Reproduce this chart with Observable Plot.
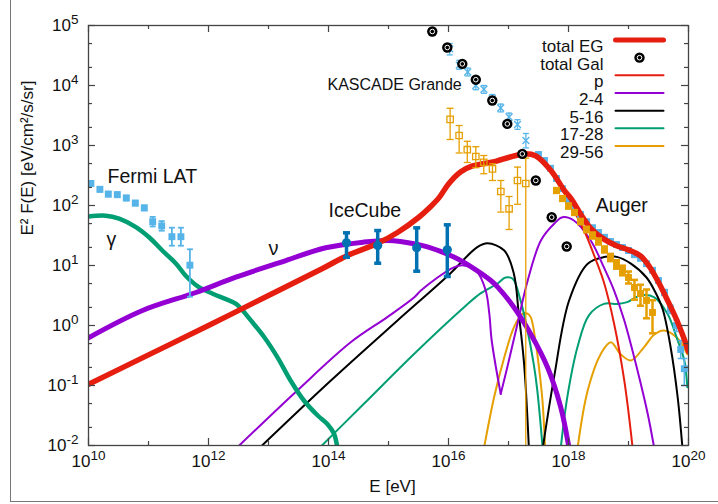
<!DOCTYPE html>
<html><head><meta charset="utf-8">
<script src="https://cdn.jsdelivr.net/npm/d3@7"></script>
<script src="https://cdn.jsdelivr.net/npm/@observablehq/plot@0.6"></script>
<style>
html,body{margin:0;padding:0;background:#fff;}
#wrap{position:relative;width:718px;height:504px;overflow:hidden;}
#border{position:absolute;left:10px;top:-2px;width:720px;height:503px;border-left:1.3px solid #777;border-bottom:1.3px solid #777;pointer-events:none;z-index:2;}
</style></head><body><div id="wrap"></div>
<script>
// ---- data (log10 E [eV], log10 E^2 F(E)) ----
const totalEG = [[10,-0.98],[11,-0.49],[12,0.0],[13,0.5],[13.9,0.95],[14.3,1.16],[14.82,1.37],[15.15,1.55],[15.5,1.80],[15.7,1.98],[15.85,2.14],[16.0,2.36],[16.2,2.56],[16.4,2.66],[16.6,2.70],[16.8,2.74],[17.0,2.80],[17.25,2.86],[17.45,2.83],[17.71,2.58],[17.93,2.25],[18.04,2.12],[18.2,1.86],[18.37,1.62],[18.59,1.44],[18.8,1.33],[19.0,1.26],[19.2,1.16],[19.35,0.98],[19.5,0.72],[19.65,0.42],[19.8,0.10],[19.9,-0.15],[20.0,-0.43]];
const pCurve = [[[10,-0.98],[11,-0.49],[12,0.0],[13,0.5],[13.9,0.95],[14.3,1.16],[14.82,1.37],[15.15,1.55],[15.5,1.80],[15.7,1.98],[15.85,2.14],[16.0,2.36],[16.2,2.56],[16.4,2.66],[16.6,2.70],[16.8,2.74],[17.0,2.80],[17.25,2.86],[17.45,2.83],[17.65,2.64],[17.82,2.40],[18.04,2.0],[18.26,1.58],[18.48,1.03],[18.59,0.72],[18.76,0.03],[18.93,-0.92],[19.07,-2.05]]];
const c2_4 = [[[12.46,-2.05],[13.48,-1.083],[14.37,-0.28],[14.98,0.14],[15.43,0.47],[15.54,0.583],[16.09,0.97],[16.26,1.0],[16.48,0.89],[16.62,0.583],[16.68,0.2],[16.72,-0.25],[16.87,-1.14]],
  [[16.87,-1.14],[16.98,-0.695],[17.15,0.03],[17.32,0.75],[17.54,1.417],[17.76,1.695],[17.90,1.805],[18.09,1.75],[18.37,1.417],[18.59,0.97],[18.76,0.583],[18.93,0.083],[19.15,-0.75],[19.32,-1.47],[19.43,-2.05]]];
const c5_16 = [[[12.84,-2.05],[14.04,-0.917],[15.15,0.083],[15.98,0.82],[16.48,1.305],[16.65,1.37],[16.93,1.25],[17.09,0.86],[17.17,0.2],[17.26,-0.64],[17.34,-2.05]],
  [[17.57,-2.05],[17.76,-0.86],[18.01,0.417],[18.32,1.03],[18.59,1.14],[18.82,1.14],[19.04,1.03],[19.3,0.8],[19.45,0.55],[19.57,0.27],[19.7,-0.35],[19.82,-1.2],[19.9,-2.05]]];
const c17_28 = [[[13.84,-2.05],[14.59,-1.305],[15.43,-0.47],[16.26,0.305],[16.54,0.54],[16.82,0.70],[16.95,0.80],[17.07,0.78],[17.2,0.42],[17.3,0.0],[17.42,-0.64],[17.48,-1.08],[17.57,-2.05]],
  [[17.87,-2.05],[17.98,-1.195],[18.15,-0.36],[18.34,0.17],[18.59,0.36],[18.82,0.36],[18.98,0.39],[19.2,0.5],[19.43,0.47],[19.65,0.195],[19.82,-0.25],[19.93,-0.58],[19.98,-1.03]]];
const c29_56 = [[[16.59,-2.05],[16.76,-1.195],[16.93,-0.53],[17.09,-0.03],[17.23,0.195],[17.31,0.2],[17.37,0.14],[17.455,-0.3],[17.52,-0.8],[17.57,-1.3],[17.61,-2.05]],
  [[18.15,-2.05],[18.32,-1.083],[18.54,-0.47],[18.705,-0.28],[18.87,-0.48],[19.04,-0.583],[19.26,-0.36],[19.43,-0.15],[19.59,-0.083],[19.82,-0.217],[19.98,-0.48]]];
const gammaCurve = [[10.0,1.817],[10.29,1.83],[10.51,1.78],[10.79,1.64],[11.01,1.47],[11.23,1.25],[11.46,1.03],[11.62,0.83],[11.84,0.64],[12.07,0.53],[12.29,0.44],[12.46,0.36],[12.57,0.25],[12.71,0.08],[12.93,-0.195],[13.15,-0.53],[13.37,-0.92],[13.59,-1.25],[13.82,-1.50],[13.98,-1.64],[14.09,-1.80],[14.15,-2.05]];
const nuCurve = [[10,-0.205],[10.9,0.25],[11.79,0.55],[12.455,0.805],[13.29,1.083],[13.955,1.295],[14.59,1.39],[14.98,1.417],[15.2,1.40],[15.65,1.31],[16.09,1.14],[16.43,0.945],[16.705,0.75],[16.82,0.64],[17.09,0.305],[17.37,-0.14],[17.65,-0.695],[17.87,-1.36],[18.01,-2.05]];

// data points: [logE, logF, logLow, logHigh]
const fermiLAT = [[10.04,2.367,2.33,2.40],[10.19,2.27,2.23,2.31],[10.33,2.19,2.15,2.23],[10.48,2.18,2.14,2.22],[10.63,2.125,2.085,2.165],[10.78,2.04,2.0,2.08],[10.93,1.96,1.92,2.0],[11.07,1.73,1.65,1.81],[11.22,1.66,1.58,1.74],[11.39,1.48,1.33,1.63],[11.54,1.48,1.33,1.63],[11.69,1.005,0.48,1.27]];
const iceCube = [[14.30,1.378,1.138,1.545],[14.82,1.333,1.038,1.583],[15.47,1.295,0.905,1.628],[15.98,1.262,0.817,1.678]];
const kascadeGrande = [[16.02,4.61,4.51,4.70],[16.18,4.34,4.27,4.42],[16.32,4.225,4.16,4.29],[16.455,4.0,3.93,4.07],[16.59,3.937,3.87,4.0],[16.73,3.78,3.71,3.85],[16.87,3.625,3.56,3.69],[17.01,3.475,3.41,3.54],[17.15,3.35,3.27,3.43],[17.29,3.083,2.96,3.2]];
const kascadeLight = [[16.027,3.435,3.10,3.62],[16.177,3.167,2.875,3.333],[16.313,2.93,2.717,3.07],[16.455,2.817,2.63,2.98],[16.588,2.72,2.53,2.833],[16.733,2.61,2.417,2.695],[16.872,2.233,1.89,2.417],[17.01,1.945,1.60,2.15],[17.15,2.417,2.02,2.64],[17.288,2.367,-3,2.79]];
const augerTotal = [[17.5,2.85,2.85,2.85],[17.6,2.75,2.75,2.75],[17.7,2.62,2.62,2.62],[17.8,2.45,2.45,2.45],[17.9,2.28,2.28,2.28],[18.0,2.10,2.10,2.10],[18.1,1.97,1.97,1.97],[18.2,1.85,1.85,1.85],[18.3,1.73,1.73,1.73],[18.4,1.63,1.63,1.63],[18.5,1.55,1.55,1.55],[18.6,1.47,1.47,1.47],[18.7,1.40,1.40,1.40],[18.8,1.35,1.35,1.35],[18.9,1.30,1.30,1.30],[19.0,1.25,1.25,1.25],[19.1,1.18,1.18,1.18],[19.2,1.12,1.12,1.12],[19.3,1.03,1.03,1.03],[19.4,0.92,0.92,0.92],[19.5,0.75,0.72,0.78],[19.6,0.55,0.50,0.60],[19.7,0.27,0.20,0.34],[19.8,0.0,-0.10,0.09],[19.87,-0.40,-0.55,-0.25],[19.93,-0.72,-1.0,-0.55]];
const augerComp = [[17.8,2.25,2.21,2.29],[17.9,2.117,2.077,2.157],[18.0,1.99,1.95,2.03],[18.1,1.883,1.843,1.923],[18.2,1.733,1.69,1.776],[18.3,1.60,1.555,1.645],[18.4,1.50,1.45,1.55],[18.5,1.40,1.35,1.45],[18.6,1.267,1.217,1.317],[18.7,1.133,1.073,1.193],[18.8,1.017,0.947,1.087],[18.9,0.917,0.837,0.997],[19.0,0.80,0.70,0.90],[19.1,0.633,0.43,0.76],[19.2,0.533,0.33,0.68],[19.3,0.417,0.12,0.60],[19.4,0.217,-0.13,0.42]];
const totalGal = [[15.73,4.90],[15.98,4.633],[16.23,4.36],[16.455,4.097],[16.73,3.75],[16.98,3.36],[17.23,2.86],[17.455,2.417],[17.72,1.805],[17.97,1.317]];

// ticks
const xMajorExp = [10,12,14,16,18,20];
const xMinorExp = [11,13,15,17,19];
const yMajorExp = [-2,-1,0,1,2,3,4,5];
const yMinorMant = [2,5];

// legend
const legendLabels = ["total EG","total Gal","p","2-4","5-16","17-28","29-56"];
const legendColors = ["#E51E10","#000000","#E51E10","#9400D3","#000000","#009E73","#E69F00"];
const legendWidths = [5,0,2,2,2,2,2];

// annotations [text, logE (left edge), logF (middle), fontSize]
const annotations = [["Fermi LAT",10.317,2.475,19.5],["γ",10.3,1.427,19.5],["ν",13.0,1.285,20],["IceCube",14.0,1.908,19.5],["KASCADE Grande",13.983,4.013,16],["Auger",18.455,1.992,19.5]];

// ---- helpers ----
const RED="#E51E10", PURPLE="#9400D3", GREEN="#009E73", ORANGE="#E69F00", LBLUE="#56B4E9", DBLUE="#0072B2";
const P = a => a.map(([e,f]) => ({x:10**e, y:10**f}));
const S = segs => segs.flatMap((s,i) => s.map(([e,f]) => ({x:10**e, y:10**f, s:i})));
const E = a => a.map(([e,f,lo,hi]) => ({x:10**e, y:10**f, lo:10**lo, hi:10**hi}));
const capSym = {draw(ctx, size){ const r = Math.sqrt(size/Math.PI); ctx.moveTo(-r,0); ctx.lineTo(r,0); }};
const lineShape = {draw(ctx, l){ ctx.moveTo(0,0); ctx.lineTo(0,-l); }};
function errMarks(data, color, w, capR){
  const d = data.filter(p => p.hi/p.lo > 1.05);
  const caps = d.flatMap(p => [{x:p.x,y:p.lo},{x:p.x,y:p.hi}]);
  return [
    Plot.ruleX(d, {x:"x", y1:"lo", y2:"hi", stroke:color, strokeWidth:w, clip:true}),
    Plot.dot(caps, {x:"x", y:"y", symbol:capSym, r:capR, stroke:color, strokeWidth:w, fill:"none", clip:true})
  ];
}
const thin = (segs, color) => Plot.line(S(segs), {x:"x", y:"y", z:"s", stroke:color, strokeWidth:2, curve:"catmull-rom", clip:true});

const H = 420, W = 600, TC = "#444";
const fermi = E(fermiLAT), ice = E(iceCube), kg = E(kascadeGrande), kl = E(kascadeLight), at = E(augerTotal), ac = E(augerComp), gal = P(totalGal);

const legendMarks = legendLabels.flatMap((lab, i) => {
  const dy = 14.5 + i*17.67;
  const m = [Plot.text([lab], {frameAnchor:"top-right", dx:-85, dy, text:d=>d, textAnchor:"end", fontSize:17, fill:"#111"})];
  if (legendWidths[i] > 0) {
    m.push(Plot.vector([0], {frameAnchor:"top-right", dx:-73, dy, rotate:90, length:48, anchor:"start", shape:lineShape, stroke:legendColors[i], strokeWidth:legendWidths[i]}));
  } else {
    m.push(Plot.dot([0], {frameAnchor:"top-right", dx:-49, dy, r:5.2, fill:"#000"}));
    m.push(Plot.dot([0], {frameAnchor:"top-right", dx:-49, dy, r:2.3, stroke:"#fff", strokeWidth:1, fill:"none"}));
  }
  return m;
});

const chart = Plot.plot({
  width: 718, height: 504,
  marginLeft: 88, marginRight: 30, marginTop: 25, marginBottom: 59,
  x: {type:"log", domain:[1e10,1e20], axis:null},
  y: {type:"log", domain:[1e-2,1e5], axis:null},
  style: {fontFamily:"'Liberation Sans', Arial, Helvetica, sans-serif", background:"white", color:"black"},
  marks: [
    thin(c29_56, ORANGE),
    thin(c17_28, GREEN),
    thin(c5_16, "#000"),
    thin(c2_4, PURPLE),
    thin(pCurve, RED),
    Plot.line(P(gammaCurve), {x:"x", y:"y", stroke:GREEN, strokeWidth:4.5, curve:"catmull-rom", clip:true}),
    Plot.line(P(nuCurve), {x:"x", y:"y", stroke:PURPLE, strokeWidth:5, curve:"catmull-rom", clip:true}),
    ...errMarks(at, LBLUE, 1.5, 3),
    Plot.dot(at, {x:"x", y:"y", symbol:"square", r:3.9, fill:LBLUE, clip:true}),
    Plot.line(P(totalEG), {x:"x", y:"y", stroke:RED, strokeWidth:5.5, curve:"catmull-rom", clip:true}),
    ...errMarks(ac, ORANGE, 2.5, 3.5),
    Plot.dot(ac, {x:"x", y:"y", symbol:"square", r:3.9, fill:ORANGE, clip:true}),
    ...errMarks(kl, ORANGE, 1.3, 3.5),
    Plot.dot(kl, {x:"x", y:"y", symbol:"square", r:3.6, stroke:ORANGE, strokeWidth:1.3, fill:"none", clip:true}),
    ...errMarks(kg, LBLUE, 1.3, 3),
    Plot.dot(kg, {x:"x", y:"y", symbol:"times", r:3.2, stroke:LBLUE, strokeWidth:1.4, clip:true}),
    ...errMarks(fermi, LBLUE, 1.8, 3),
    Plot.dot(fermi, {x:"x", y:"y", symbol:"square", r:3.9, fill:LBLUE, clip:true}),
    ...errMarks(ice, DBLUE, 3.5, 3.5),
    Plot.dot(ice, {x:"x", y:"y", r:4.6, fill:DBLUE}),
    Plot.dot(gal, {x:"x", y:"y", r:5.2, fill:"#000"}),
    Plot.dot(gal, {x:"x", y:"y", r:2.3, stroke:"#fff", strokeWidth:1, fill:"none"}),
    // frame & ticks
    Plot.frame({stroke:TC, strokeWidth:1.3}),
    Plot.tickX(xMajorExp.map(e=>10**e), {x:d=>d, insetTop:H-7, stroke:TC, strokeWidth:1.2}),
    Plot.tickX(xMajorExp.map(e=>10**e), {x:d=>d, insetBottom:H-7, stroke:TC, strokeWidth:1.2}),
    Plot.tickX(xMinorExp.map(e=>10**e), {x:d=>d, insetTop:H-4, stroke:TC, strokeWidth:1.2}),
    Plot.tickX(xMinorExp.map(e=>10**e), {x:d=>d, insetBottom:H-4, stroke:TC, strokeWidth:1.2}),
    Plot.tickY(yMajorExp.map(e=>10**e), {y:d=>d, insetRight:W-7, stroke:TC, strokeWidth:1.2}),
    Plot.tickY(yMajorExp.map(e=>10**e), {y:d=>d, insetLeft:W-7, stroke:TC, strokeWidth:1.2}),
    Plot.tickY(yMajorExp.slice(0,-1).flatMap(e=>yMinorMant.map(m=>m*10**e)), {y:d=>d, insetRight:W-4, stroke:TC, strokeWidth:1.2}),
    Plot.tickY(yMajorExp.slice(0,-1).flatMap(e=>yMinorMant.map(m=>m*10**e)), {y:d=>d, insetLeft:W-4, stroke:TC, strokeWidth:1.2}),
    // tick labels
    Plot.text(xMajorExp, {x:e=>10**e, frameAnchor:"bottom", dy:21, text:e=>"10^"+e, textAnchor:"middle", fontSize:17, fill:"#111"}),
    Plot.text(yMajorExp, {y:e=>10**e, frameAnchor:"left", dx:-10, text:e=>"10^"+e, textAnchor:"end", fontSize:17, fill:"#111"}),
    // axis titles
    Plot.text(["E [eV]"], {frameAnchor:"bottom", dx:4, dy:46, text:d=>d, fontSize:17, fill:"#111"}),
    Plot.text(["E² F(E) [eV/cm²/s/sr]"], {frameAnchor:"left", dx:-61, rotate:-90, text:d=>d, fontSize:17, fill:"#111"}),
    // annotations
    Plot.text(annotations, {x:d=>10**d[1], y:d=>10**d[2], text:d=>d[0], fontSize:d=>d[3], textAnchor:"start", fill:"#111"}),
    ...legendMarks
  ]
});

// superscript exponents on tick labels
const ns = "http://www.w3.org/2000/svg";
chart.querySelectorAll("text").forEach(t => {
  if (t.children.length === 0 && t.textContent.includes("^")) {
    const [b, e] = t.textContent.split("^");
    t.textContent = "";
    const a = document.createElementNS(ns, "tspan"); a.textContent = b;
    const s = document.createElementNS(ns, "tspan"); s.textContent = e;
    s.setAttribute("dy", "-7"); s.setAttribute("font-size", "13.5");
    t.append(a, s);
  }
});
const wrap = document.getElementById("wrap");
wrap.append(chart);
const border = document.createElement("div"); border.id = "border"; wrap.append(border);
</script>
</body></html>
